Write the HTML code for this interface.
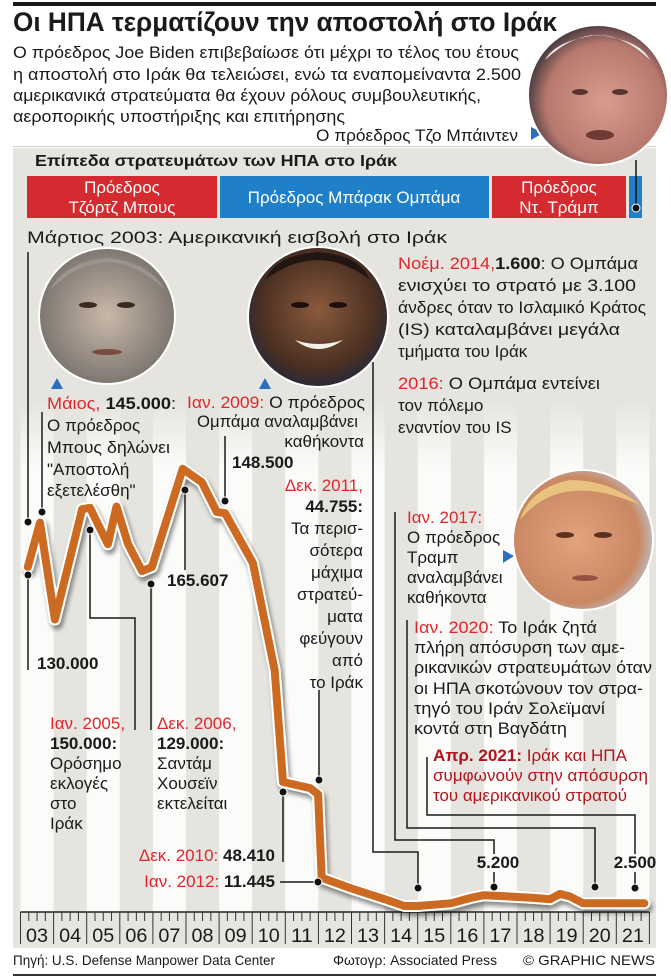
<!DOCTYPE html>
<html><head><meta charset="utf-8"><style>
html,body{margin:0;padding:0;background:#fff}
svg{display:block}
text{font-family:"Liberation Sans","DejaVu Sans",sans-serif;fill:#1a1a1a}
.r{fill:#e0262c}.b{font-weight:bold}.dr{fill:#b3141b}
</style></head><body>
<svg id="g" width="671" height="980" viewBox="0 0 671 980" xmlns="http://www.w3.org/2000/svg">
<defs>
<linearGradient id="fade" gradientUnits="userSpaceOnUse" x1="0" y1="400" x2="0" y2="470"><stop offset="0" stop-color="#fff" stop-opacity="0"/><stop offset="1" stop-color="#fff" stop-opacity="1"/></linearGradient>
<mask id="stripeMask"><rect x="0" y="0" width="671" height="980" fill="url(#fade)"/></mask>
<filter id="sh" x="-5%" y="-5%" width="110%" height="115%"><feGaussianBlur in="SourceAlpha" stdDeviation="2.5"/><feOffset dx="2" dy="4"/><feComponentTransfer><feFuncA type="linear" slope="0.45"/></feComponentTransfer><feMerge><feMergeNode/><feMergeNode in="SourceGraphic"/></feMerge></filter>
<radialGradient id="bushBg" cx="0.5" cy="0.5" r="0.6"><stop offset="0" stop-color="#c9b8a8"/><stop offset="1" stop-color="#6e6a66"/></radialGradient>
<radialGradient id="obamaBg" cx="0.5" cy="0.45" r="0.6"><stop offset="0" stop-color="#8a5a3c"/><stop offset="0.7" stop-color="#4a2f22"/><stop offset="1" stop-color="#1c2740"/></radialGradient>
<radialGradient id="trumpBg" cx="0.45" cy="0.5" r="0.6"><stop offset="0" stop-color="#e3a27e"/><stop offset="0.75" stop-color="#c98863"/><stop offset="1" stop-color="#b9cde0"/></radialGradient>
<radialGradient id="bidenBg" cx="0.55" cy="0.55" r="0.6"><stop offset="0" stop-color="#d99c8e"/><stop offset="0.7" stop-color="#b7786e"/><stop offset="1" stop-color="#2a2a33"/></radialGradient>
</defs>

<rect x="13" y="2" width="643" height="4" fill="#1a1a1a"/>
<text x="13" y="31" font-size="27" class="b" textLength="544" lengthAdjust="spacingAndGlyphs">Οι ΗΠΑ τερματίζουν την αποστολή στο Ιράκ</text>
<g font-size="17">
<text x="13" y="58" textLength="506" lengthAdjust="spacingAndGlyphs">Ο πρόεδρος Joe Biden επιβεβαίωσε ότι μέχρι το τέλος του έτους</text>
<text x="13" y="80" textLength="508" lengthAdjust="spacingAndGlyphs">η αποστολή στο Ιράκ θα τελειώσει, ενώ τα εναπομείναντα 2.500</text>
<text x="13" y="101" textLength="468" lengthAdjust="spacingAndGlyphs">αμερικανικά στρατεύματα θα έχουν ρόλους συμβουλευτικής,</text>
<text x="13" y="122" textLength="332" lengthAdjust="spacingAndGlyphs">αεροπορικής υποστήριξης και επιτήρησης</text>
</g>
<rect x="13" y="146" width="643" height="1" fill="#ccc"/>

<rect x="13" y="148" width="643" height="800" fill="#e6e4de"/>
<g id="stripes" mask="url(#stripeMask)"></g>

<text x="316" y="141" font-size="17" textLength="202" lengthAdjust="spacingAndGlyphs">Ο πρόεδρος Τζο Μπάιντεν</text>
<polygon points="531,127 543,133 531,140" fill="#2a6fc0"/>
<g>
<circle cx="598" cy="95" r="70" fill="url(#bidenBg)" stroke="#fff" stroke-width="2"/>
<path d="M545,60 Q598,10 650,60 Q640,40 598,35 Q556,40 545,60Z" fill="#eeeae6"/>
<ellipse cx="580" cy="92" rx="8" ry="3" fill="#5a3530"/><ellipse cx="620" cy="92" rx="8" ry="3" fill="#5a3530"/>
<ellipse cx="600" cy="135" rx="14" ry="5" fill="#6e3a36"/>
</g>

<text x="35" y="166" font-size="16" class="b" textLength="362" lengthAdjust="spacingAndGlyphs">Επίπεδα στρατευμάτων των ΗΠΑ στο Ιράκ</text>

<g>
<rect x="27" y="176" width="190" height="42" fill="#d52a2f"/>
<rect x="220" y="176" width="269" height="42" fill="#1f80c9"/>
<rect x="492" y="176" width="134" height="42" fill="#d52a2f"/>
<rect x="629" y="176" width="13" height="42" fill="#1f80c9"/>
<line x1="636" y1="160" x2="636" y2="208" stroke="#111" stroke-width="1.5"/><circle cx="636" cy="208" r="4" fill="#111" stroke="#fff" stroke-width="1"/>
<g font-size="17" text-anchor="middle" style="fill:#fff">
<text x="122" y="193" style="fill:#fff">Πρόεδρος</text><text x="122" y="213" style="fill:#fff">Τζόρτζ Μπους</text>
<text x="354" y="203" style="fill:#fff">Πρόεδρος Μπάρακ Ομπάμα</text>
<text x="559" y="193" style="fill:#fff">Πρόεδρος</text><text x="559" y="213" style="fill:#fff">Ντ. Τράμπ</text>
</g></g>

<text x="27" y="243" font-size="17" textLength="420" lengthAdjust="spacingAndGlyphs">Μάρτιος 2003: Αμερικανική εισβολή στο Ιράκ</text>

<g>
<circle cx="107" cy="316" r="68" fill="url(#bushBg)" stroke="#fff" stroke-width="2"/>
<path d="M50,290 Q107,235 165,290 Q150,262 107,258 Q64,262 50,290Z" fill="#9a948c"/>
<ellipse cx="88" cy="305" rx="9" ry="3" fill="#3a2a22"/><ellipse cx="126" cy="305" rx="9" ry="3" fill="#3a2a22"/>
<ellipse cx="107" cy="352" rx="15" ry="3" fill="#7a4a3e"/>
</g>
<polygon points="51,389 57,378 63,389" fill="#2a6fc0"/>
<g>
<circle cx="318" cy="317" r="70" fill="url(#obamaBg)" stroke="#fff" stroke-width="2"/>
<path d="M265,280 Q318,240 370,280 Q360,255 318,252 Q276,255 265,280Z" fill="#221612"/>
<ellipse cx="300" cy="305" rx="9" ry="3" fill="#1c100a"/><ellipse cx="338" cy="305" rx="9" ry="3" fill="#1c100a"/>
<path d="M295,340 Q318,358 343,340 Q318,348 295,340Z" fill="#f4f0ea"/>
</g>
<polygon points="259,389 265,378 271,389" fill="#2a6fc0"/>
<g>
<circle cx="583" cy="540" r="70" fill="url(#trumpBg)" stroke="#fff" stroke-width="2"/>
<path d="M520,520 Q560,470 640,505 Q610,480 570,480 Q530,488 520,520Z" fill="#e8c27e"/>
<ellipse cx="565" cy="535" rx="9" ry="3" fill="#5a3020"/><ellipse cx="603" cy="535" rx="9" ry="3" fill="#5a3020"/>
<ellipse cx="585" cy="578" rx="13" ry="3" fill="#9a5040"/>
</g>
<polygon points="503,550 514,556 503,563" fill="#2a6fc0"/>

<g font-size="17">
<text x="47" y="409" textLength="129" lengthAdjust="spacingAndGlyphs"><tspan class="r">Μάιος,</tspan> <tspan class="b">145.000</tspan>:</text>
<text x="47" y="431">Ο πρόεδρος</text><text x="47" y="453" textLength="123" lengthAdjust="spacingAndGlyphs">Μπους δηλώνει</text>
<text x="47" y="475">"Αποστολή</text><text x="47" y="496">εξετελέσθη"</text>

<text x="187" y="408" textLength="178" lengthAdjust="spacingAndGlyphs"><tspan class="r">Ιαν. 2009:</tspan> Ο πρόεδρος</text>
<text x="358" y="427" text-anchor="end" textLength="161" lengthAdjust="spacingAndGlyphs">Ομπάμα αναλαμβάνει</text>
<text x="364" y="447" text-anchor="end">καθήκοντα</text>
<text x="232" y="468" class="b">148.500</text>

<text x="398" y="269" textLength="240" lengthAdjust="spacingAndGlyphs"><tspan class="r">Νοέμ. 2014,</tspan><tspan class="b">1.600</tspan>: Ο Ομπάμα</text>
<text x="398" y="291" textLength="238" lengthAdjust="spacingAndGlyphs">ενισχύει το στρατό με 3.100</text>
<text x="398" y="313" textLength="248" lengthAdjust="spacingAndGlyphs">άνδρες όταν το Ισλαμικό Κράτος</text>
<text x="398" y="335" textLength="222" lengthAdjust="spacingAndGlyphs">(IS) καταλαμβάνει μεγάλα</text>
<text x="398" y="357">τμήματα του Ιράκ</text>
<text x="398" y="389" textLength="202" lengthAdjust="spacingAndGlyphs"><tspan class="r">2016:</tspan> Ο Ομπάμα εντείνει</text>
<text x="398" y="411">τον πόλεμο</text><text x="398" y="433">εναντίον του IS</text>

<g text-anchor="end">
<text x="363" y="491" class="r">Δεκ. 2011,</text><text x="363" y="512" class="b">44.755:</text>
<text x="363" y="534">Τα περισ-</text><text x="363" y="556">σότερα</text><text x="363" y="578">μάχιμα</text>
<text x="363" y="600">στρατεύ-</text><text x="363" y="622">ματα</text><text x="363" y="644">φεύγουν</text>
<text x="363" y="666">από</text><text x="363" y="688">το Ιράκ</text>
</g>

<text x="407" y="523" class="r">Ιαν. 2017:</text><text x="407" y="543">Ο πρόεδρος</text><text x="407" y="563">Τραμπ</text>
<text x="407" y="583">αναλαμβάνει</text><text x="407" y="603">καθήκοντα</text>

<text x="414" y="633" textLength="183" lengthAdjust="spacingAndGlyphs"><tspan class="r">Ιαν. 2020:</tspan> Το Ιράκ ζητά</text>
<text x="414" y="653" textLength="211" lengthAdjust="spacingAndGlyphs">πλήρη απόσυρση των αμε-</text>
<text x="414" y="673" textLength="238" lengthAdjust="spacingAndGlyphs">ρικανικών στρατευμάτων όταν</text>
<text x="414" y="694" textLength="229" lengthAdjust="spacingAndGlyphs">οι ΗΠΑ σκοτώνουν τον στρα-</text>
<text x="414" y="714" textLength="191" lengthAdjust="spacingAndGlyphs">τηγό του Ιράν Σολεϊμανί</text>
<text x="414" y="734" textLength="153" lengthAdjust="spacingAndGlyphs">κοντά στη Βαγδάτη</text>

<text x="433" y="761" class="dr" textLength="194" lengthAdjust="spacingAndGlyphs"><tspan class="b">Απρ. 2021:</tspan> Ιράκ και ΗΠΑ</text>
<text x="433" y="781" class="dr" textLength="215" lengthAdjust="spacingAndGlyphs">συμφωνούν στην απόσυρση</text>
<text x="433" y="801" class="dr" textLength="194" lengthAdjust="spacingAndGlyphs">του αμερικανικού στρατού</text>

<text x="37" y="669" class="b">130.000</text>
<text x="50" y="729" class="r">Ιαν. 2005,</text><text x="50" y="749" class="b">150.000:</text>
<text x="50" y="769">Ορόσημο</text><text x="50" y="789">εκλογές</text><text x="50" y="809">στο</text><text x="50" y="829">Ιράκ</text>
<text x="157" y="729" class="r">Δεκ. 2006,</text><text x="157" y="749" class="b">129.000:</text>
<text x="157" y="769">Σαντάμ</text><text x="157" y="789">Χουσεϊν</text><text x="157" y="809">εκτελείται</text>
<text x="167" y="586" class="b">165.607</text>
<text x="275" y="861" text-anchor="end"><tspan class="r">Δεκ. 2010:</tspan> <tspan class="b">48.410</tspan></text>
<text x="275" y="887" text-anchor="end"><tspan class="r">Ιαν. 2012:</tspan> <tspan class="b">11.445</tspan></text>
<text x="498" y="868" class="b" text-anchor="middle">5.200</text>
<text x="635" y="868" class="b" text-anchor="middle">2.500</text>
</g>

<g fill="none" stroke="#1a1a1a" stroke-width="1.5">
<polyline points="28,252 28,522"/><polyline points="28,575 28,670"/>
<polyline points="42,412 42,512"/>
<polyline points="90,530 90,618 135,618 135,730"/>
<polyline points="151,584 151,730"/>
<polyline points="185,490 185,570"/>
<polyline points="225,436 225,501"/>
<polyline points="283,792 283,862"/>
<polyline points="280,882 318,882"/>
<polyline points="319,690 319,780"/>
<polyline points="373,362 373,852 418,852 418,888"/>
<polyline points="395,512 395,840 494,840 494,854"/><polyline points="494,872 494,887"/>
<polyline points="407,620 407,828 595,828 595,887"/>
<polyline points="427,757 427,815 635,815 635,854"/><polyline points="635,872 635,888"/>
</g>

<g id="chart"></g>
<g fill="#111" stroke="#fff" stroke-width="1">
<circle cx="28" cy="522" r="4"/><circle cx="28" cy="575" r="4"/><circle cx="42" cy="512" r="4"/>
<circle cx="90" cy="530" r="4"/><circle cx="151" cy="584" r="4"/><circle cx="185" cy="490" r="4"/>
<circle cx="225" cy="501" r="4"/><circle cx="283" cy="792" r="4"/><circle cx="319" cy="780" r="4"/>
<circle cx="318" cy="882" r="4"/><circle cx="418" cy="888" r="4"/><circle cx="494" cy="887" r="4"/>
<circle cx="595" cy="887" r="4"/><circle cx="635" cy="888" r="4"/>
</g>

<g font-size="14">
<text x="13" y="965" textLength="262" lengthAdjust="spacingAndGlyphs">Πηγή: U.S. Defense Manpower Data Center</text>
<text x="333" y="965" textLength="164" lengthAdjust="spacingAndGlyphs">Φωτογρ: Associated Press</text>
<text x="655" y="965" text-anchor="end" textLength="132" lengthAdjust="spacingAndGlyphs">© GRAPHIC NEWS</text>
</g>
<rect x="13" y="974" width="643" height="2" fill="#333"/>
</svg>
<script>
const yearLabels = ["03","04","05","06","07","08","09","10","11","12","13","14","15","16","17","18","19","20","21"];
const dates = [2003.22,2003.59,2004.04,2004.5,2004.86,2005.1,2005.64,2005.9,2006.25,2006.67,2006.97,2007.9,2008.48,2008.93,2009.18,2010.02,2010.68,2010.93,2011.75,2011.99,2012.1,2013.0,2014.0,2014.6,2015.0,2016.0,2016.6,2017.0,2017.5,2018.5,2019.0,2019.3,2019.6,2020.0,2021.0,2021.85];
const troops = [127500,144000,108000,131000,149000,149500,136000,150000,136000,126000,127500,164000,159000,148000,147500,129000,89000,47600,45300,43000,12000,8000,4000,1500,1500,2500,4500,5500,5200,4500,4000,6000,5000,2500,2500,2500];
const NS='http://www.w3.org/2000/svg';
const x = t => 20.5 + (t - 2003) * 33.1;
const y = v => 910 - v * 0.00269;
const stripes = document.getElementById('stripes');
yearLabels.forEach((lab,i)=>{
  if(i%2===0){
    const r=document.createElementNS(NS,'rect');
    r.setAttribute('x',x(2003+i)); r.setAttribute('y',300); r.setAttribute('width',33.1); r.setAttribute('height',612);
    r.setAttribute('fill','#fbfbfa');
    
    
    stripes.appendChild(r);
  }
});
const chart=document.getElementById('chart');
const axis=document.createElementNS(NS,'g');


const al=document.createElementNS(NS,'line');
al.setAttribute('x1',x(2003)); al.setAttribute('x2',x(2022)); al.setAttribute('y1',912); al.setAttribute('y2',912);
al.setAttribute('stroke','#222'); al.setAttribute('stroke-width','1.5');


axis.appendChild(al);
for(let q=0;q<=19*4;q++){
  const t=2003+q/4, major=q%4===0;
  const tk=document.createElementNS(NS,'line');
  tk.setAttribute('x1',x(t)); tk.setAttribute('x2',x(t)); tk.setAttribute('y1',912); tk.setAttribute('y2',major?944:921);
  tk.setAttribute('stroke','#333'); tk.setAttribute('stroke-width','1');
  
  
  axis.appendChild(tk);
}
yearLabels.forEach((lab,i)=>{
  const tx=document.createElementNS(NS,'text');
  tx.setAttribute('x',x(2003+i+0.5)); tx.setAttribute('y',942); tx.setAttribute('font-size','19'); tx.setAttribute('text-anchor','middle');
  tx.setAttribute('textLength','22'); tx.setAttribute('lengthAdjust','spacingAndGlyphs');
  tx.textContent=lab;
  
  
  axis.appendChild(tx);
});
chart.appendChild(axis);
const d=dates.map((t,i)=>(i?'L':'M')+x(t).toFixed(1)+','+y(troops[i]).toFixed(1)).join(' ');
const lg=document.createElementNS(NS,'g');
lg.setAttribute('filter','url(#sh)');


const p1=document.createElementNS(NS,'path');
p1.setAttribute('d',d); p1.setAttribute('fill','none'); p1.setAttribute('stroke','#fff'); p1.setAttribute('stroke-width','12'); p1.setAttribute('stroke-linejoin','round'); p1.setAttribute('stroke-linecap','round');


const p2=document.createElementNS(NS,'path');
p2.setAttribute('d',d); p2.setAttribute('fill','none'); p2.setAttribute('stroke','#cd6a23'); p2.setAttribute('stroke-width','8'); p2.setAttribute('stroke-linejoin','round'); p2.setAttribute('stroke-linecap','round');


lg.appendChild(p1); lg.appendChild(p2);
chart.appendChild(lg);
</script>
</body></html>
